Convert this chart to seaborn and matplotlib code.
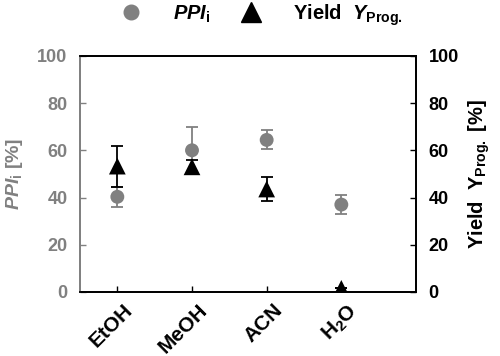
import numpy as np
import pandas as pd
import matplotlib
matplotlib.use("Agg")
import matplotlib.pyplot as plt
import matplotlib.transforms as mtransforms
import seaborn as sns

# Datos
solvents = ["EtOH", "MeOH", "ACN", "H$_2$O"]
ppi = [40.3, 60.0, 64.4, 37.0]
ppi_err = [4.2, 10.0, 4.0, 4.1]
yield_prog = [53.3, 53.0, 43.6, 1.5]
yield_err = [8.7, 2.7, 5.0, 0.0]

sns.set_style("ticks")
plt.rcParams["font.family"] = ["Liberation Sans", "DejaVu Sans"]
plt.rcParams["font.weight"] = "bold"
plt.rcParams["text.color"] = "black"
plt.rcParams["mathtext.fontset"] = "custom"
plt.rcParams["mathtext.rm"] = "Liberation Sans:bold"
plt.rcParams["mathtext.it"] = "Liberation Sans:bold:italic"
plt.rcParams["mathtext.bf"] = "Liberation Sans:bold"

GRAY = "#808080"
FS = 13

df = pd.DataFrame({"pos": np.arange(len(solvents)), "PPI": ppi, "PPI_err": ppi_err,
                   "Yield": yield_prog, "Yield_err": yield_err})

fig = plt.figure(figsize=(5, 3.56), dpi=100)
ax = fig.add_axes([0.16, 0.18, 0.672, 0.663])
ax2 = ax.twinx()

# PPI (eje izquierdo, gris)
ax.errorbar(df["pos"], df["PPI"], yerr=df["PPI_err"], fmt="none", ecolor=GRAY,
            elinewidth=1.3, capsize=4.5, capthick=1.3, zorder=2)
sns.scatterplot(data=df, x="pos", y="PPI", ax=ax, color=GRAY, marker="o", s=100,
                edgecolor="none", zorder=3, legend=False)

# Rendimiento (eje derecho, negro)
ax2.errorbar(df["pos"], df["Yield"], yerr=df["Yield_err"], fmt="none", ecolor="black",
             elinewidth=1.3, capsize=4.5, capthick=1.3, zorder=2)
sns.scatterplot(data=df, x="pos", y="Yield", ax=ax2, color="black", marker="^", s=145,
                edgecolor="none", zorder=3, legend=False)

for a in (ax, ax2):
    a.set_xlim(-0.5, 4)
    a.set_ylim(0, 100)
    a.set_yticks([0, 20, 40, 60, 80, 100])

ax.set_xticks(df["pos"])
ax.set_xticklabels(solvents, rotation=45, ha="right", va="top", rotation_mode="anchor",
                   fontsize=15, fontweight="bold", color="black")
ax.set_xlabel("")
ax.tick_params(axis="x", direction="in", length=4, width=1, colors="black",
               labelcolor="black", pad=6)
offset = mtransforms.ScaledTranslation(6 / 100, 0, fig.dpi_scale_trans)
for lbl in ax.get_xticklabels():
    lbl.set_transform(lbl.get_transform() + offset)

ax.tick_params(axis="y", direction="in", length=4, width=1, colors=GRAY, labelcolor=GRAY,
               labelsize=FS, pad=9)
ax2.tick_params(axis="y", direction="in", length=4, width=1, colors="black",
                labelcolor="black", labelsize=FS, pad=9)
for lbl in ax.get_yticklabels() + ax2.get_yticklabels():
    lbl.set_fontweight("bold")

ax.set_ylabel(r"$\mathit{PPI}_{\mathrm{i}}$ [%]", color=GRAY, fontsize=14, fontweight="bold")
ax.yaxis.set_label_coords(-0.165, 0.5)
ax2.set_ylabel(r"Yield  $\mathrm{Y}_{\mathrm{Prog.}}$ [%]", color="black", fontsize=14.5,
               fontweight="bold", rotation=90)
ax2.yaxis.set_label_coords(1.15, 0.5)

for a in (ax, ax2):
    for s in a.spines.values():
        s.set_linewidth(1.3)
        s.set_color("black")
ax2.spines["left"].set_color(GRAY)
ax.spines["left"].set_color(GRAY)

# Leyenda arriba
h1 = plt.Line2D([], [], ls="none", marker="o", color=GRAY, markersize=10.5)
h2 = plt.Line2D([], [], ls="none", marker="^", color="black", markersize=14)
fig.legend([h1, h2], [r"$\mathit{PPI}_{\mathrm{i}}$", r"Yield  $\mathit{Y}_{\mathrm{Prog.}}$"],
           loc="upper center", bbox_to_anchor=(0.514, 1.045), ncol=2, frameon=False,
           fontsize=14.5, handletextpad=1.1, columnspacing=1.0, labelcolor="black")

fig.savefig("out.png", dpi=100)
